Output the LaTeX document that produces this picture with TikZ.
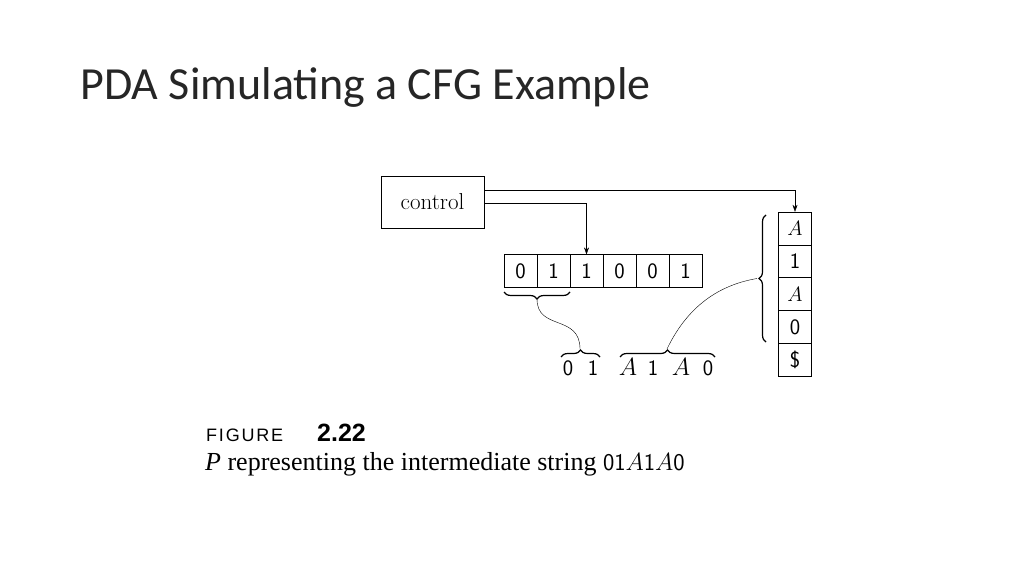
\documentclass[tikz,border=0pt]{standalone}
\usepackage{fontspec}
\setmainfont{Latin Modern Roman}
\newfontfamily\titlefont{Carlito}
\newfontfamily\capsans{Liberation Sans}
\newfontfamily\capserif{Liberation Serif}
\usetikzlibrary{decorations.pathreplacing,arrows.meta}
\begin{document}
\begin{tikzpicture}[x=1pt,y=1pt,
  cell/.style={draw,minimum width=33pt,minimum height=32.8pt,inner sep=0pt,font=\sffamily\fontsize{22}{22}\selectfont},
  br/.style={decorate,decoration={brace,amplitude=7pt},line width=1.2pt},
  arr/.style={-{Stealth[length=7pt,width=5pt]}},
  lbl/.style={font=\fontsize{23}{23}\selectfont,anchor=base},
  dig/.style={lbl,font=\sffamily\fontsize{22}{22}\selectfont}]
\useasboundingbox (0,0) rectangle (1024,576);
\node[anchor=base west,font=\titlefont\fontsize{46}{46}\selectfont,text=black!85] (title) at (77,476) {PDA Simulating a CFG Example};
\node[draw,minimum width=103pt,minimum height=52pt,font=\fontsize{23}{23}\selectfont] (ctrl) at (432.5,374) {control};
\foreach \v [count=\i] in {0,1,1,0,0,1}
  \node[cell] (t\i) at ({504+33*\i-16.5},305) {\v};
\foreach \v [count=\i] in {$A$,1,$A$,0,\$}
  \node[cell] (s\i) at (795,{364-32.8*\i+16.4}) {\v};
\draw[arr] (ctrl.east |- 0,373) -| (t3.north);
\draw[arr] (ctrl.east |- 0,386) -| (s1.north);
\draw[br] (570,284) -- (504,284);
\draw[br] (561,219) -- (600,219);
\draw[br] (620,219) -- (715,219);
\draw[br] (766,234) -- (766,361);
\coordinate (tb) at (537,277);
\coordinate (b1) at (580,227);
\coordinate (b2) at (667,227);
\coordinate (sb) at (757,297.5);
\draw[thin] (tb) .. controls (537,245) and (580,262) .. (b1);
\draw[thin] (b2) .. controls (690,275) and (725,292) .. (sb);
\node[dig] (o1) at (568,201) {0};
\node[dig] (o2) at (593,201) {1};
\node[lbl] (o3) at (628,201) {$A$};
\node[dig] (o4) at (653,201) {1};
\node[lbl] (o5) at (681,201) {$A$};
\node[dig] (o6) at (708,201) {0};
\node[anchor=base west,inner sep=0pt,font=\capsans\fontsize{18}{18}\selectfont] (fig) at (206,135) {\addfontfeature{LetterSpace=10}FIGURE};
\node[anchor=base west,inner sep=0pt,font=\capsans\bfseries\fontsize{25}{25}\selectfont] (num) at (317,135) {2.22};
\node[anchor=base west,inner sep=0pt,font=\capserif\fontsize{26}{26}\selectfont] (cap) at (205,106) {\textit{P} representing the intermediate string {\sffamily\fontsize{24}{24}\selectfont 01$A$1$A$0}};
\end{tikzpicture}
\end{document}
